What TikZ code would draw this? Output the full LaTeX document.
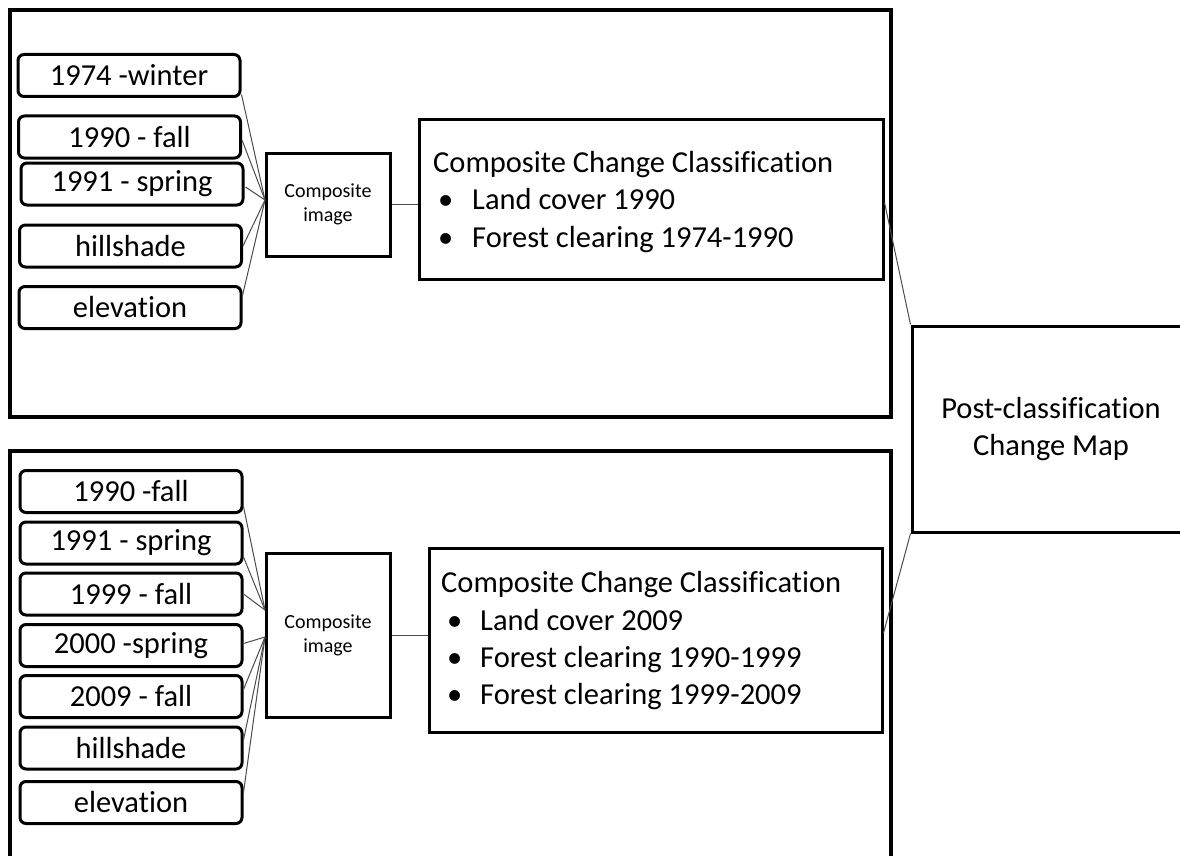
\documentclass[tikz,border=0pt]{standalone}
\usepackage{fontspec}
\setmainfont[Ligatures=NoCommon]{Carlito}
\usetikzlibrary{calc}
\begin{document}
\begin{tikzpicture}[x=1pt,y=-1pt,
  inbox/.style={draw, line width=3pt, rounded corners=6pt, minimum width=222pt, minimum height=42pt, inner sep=0pt, font=\fontsize{30.5}{36}\selectfont},
  sqbox/.style={draw, line width=3pt, inner sep=0pt},
  frame/.style={draw, line width=3.2pt},
  link/.style={line width=1pt, draw=black!70},
  txt/.style={inner sep=0pt, font=\fontsize{30.5}{37}\selectfont},
  smalltxt/.style={font=\fontsize{20}{24}\selectfont, align=center}]
\useasboundingbox (0,0) rectangle (1180,856);
% outer frames
\draw[frame] (10,10) rectangle (891,417);
\draw[frame] (10,451) rectangle (891,880);

% top section inputs
\node[inbox] (w1) at (129,75.5) {1974 -winter};
\node[inbox] (w2) at (129.5,137) {1990 - fall};
\node[inbox] (w3) at (132,184) {1991 - spring};
\node[inbox] (w4) at (130.5,246) {hillshade};
\node[inbox] (w5) at (130,307.5) {elevation};
\node[sqbox, minimum width=124pt, minimum height=103pt, smalltxt] (cmp1) at (328,204.5) {Composite\\image};
\coordinate (m0) at (265,200);
\draw[link] ($(w1.east)+(0,19)$) -- (m0);
\draw[link] ($(w2.east)+(0,3)$) -- (m0);
\draw[link] ($(w3.east)+(1,3)$) -- (m0);
\draw[link] (w4.east) -- (m0);
\draw[link] ($(w5.east)+(0,-12)$) -- (m0);

\node[sqbox, minimum width=464pt, minimum height=159pt] (ccc1) at (651,199.5) {};
\draw[link] (cmp1.east) -- (cmp1.east -| ccc1.west);
\node[txt, anchor=base west] (t1) at (433,172) {Composite Change Classification};
\node[txt, anchor=base west] (t1b1) at (438,209) {•};
\node[txt, anchor=base west] (t1i1) at (472,209) {Land cover 1990};
\node[txt, anchor=base west] (t1b2) at (438,247) {•};
\node[txt, anchor=base west] (t1i2) at (472,247) {Forest clearing 1974-1990};

% bottom section inputs
\node[inbox] (b1) at (131,491.5) {1990 -fall};
\node[inbox] (b2) at (131,543) {1991 - spring};
\node[inbox] (b3) at (131,594) {1999 - fall};
\node[inbox] (b4) at (131,645.5) {2000 -spring};
\node[inbox] (b5) at (131,696.5) {2009 - fall};
\node[inbox] (b6) at (131,748) {hillshade};
\node[inbox] (b7) at (131,802.5) {elevation};
\node[sqbox, minimum width=124pt, minimum height=164pt, smalltxt] (cmp2) at (328,635) {Composite\\image};
\coordinate (m1) at (265,610);
\coordinate (m2) at (265,637);
\draw[link] ($(b1.east)+(0,15)$) -- (m1);
\draw[link] ($(b2.east)+(0,14)$) -- (m1);
\draw[link] (b3.east) -- (m1);
\draw[link] ($(b4.east)+(0,-2)$) -- (m2);
\draw[link] ($(b5.east)+(0,-7)$) -- (m2);
\draw[link] ($(b6.east)+(0,-8)$) -- (m2);
\draw[link] ($(b7.east)+(0,-10)$) -- (m2);

\node[sqbox, minimum width=453pt, minimum height=184pt] (ccc2) at (655.5,640) {};
\draw[link] (cmp2.east) -- (cmp2.east -| ccc2.west);
\node[txt, anchor=base west] (t2) at (441,592) {Composite Change Classification};
\node[txt, anchor=base west] (t2b1) at (447,630) {•};
\node[txt, anchor=base west] (t2i1) at (480,630) {Land cover 2009};
\node[txt, anchor=base west] (t2b2) at (447,667) {•};
\node[txt, anchor=base west] (t2i2) at (480,667) {Forest clearing 1990-1999};
\node[txt, anchor=base west] (t2b3) at (447,704) {•};
\node[txt, anchor=base west] (t2i3) at (480,704) {Forest clearing 1999-2009};

% post classification
\node[sqbox, minimum width=278pt, minimum height=206pt, font=\fontsize{30.5}{37}\selectfont, align=center] (post) at (1051,429) {Post-classification\\Change Map};
\draw[link] ($(ccc1.east)+(0,3)$) -- (post.north west);
\draw[link] ($(ccc2.east)+(0,-7)$) -- (post.south west);
\end{tikzpicture}
\end{document}
